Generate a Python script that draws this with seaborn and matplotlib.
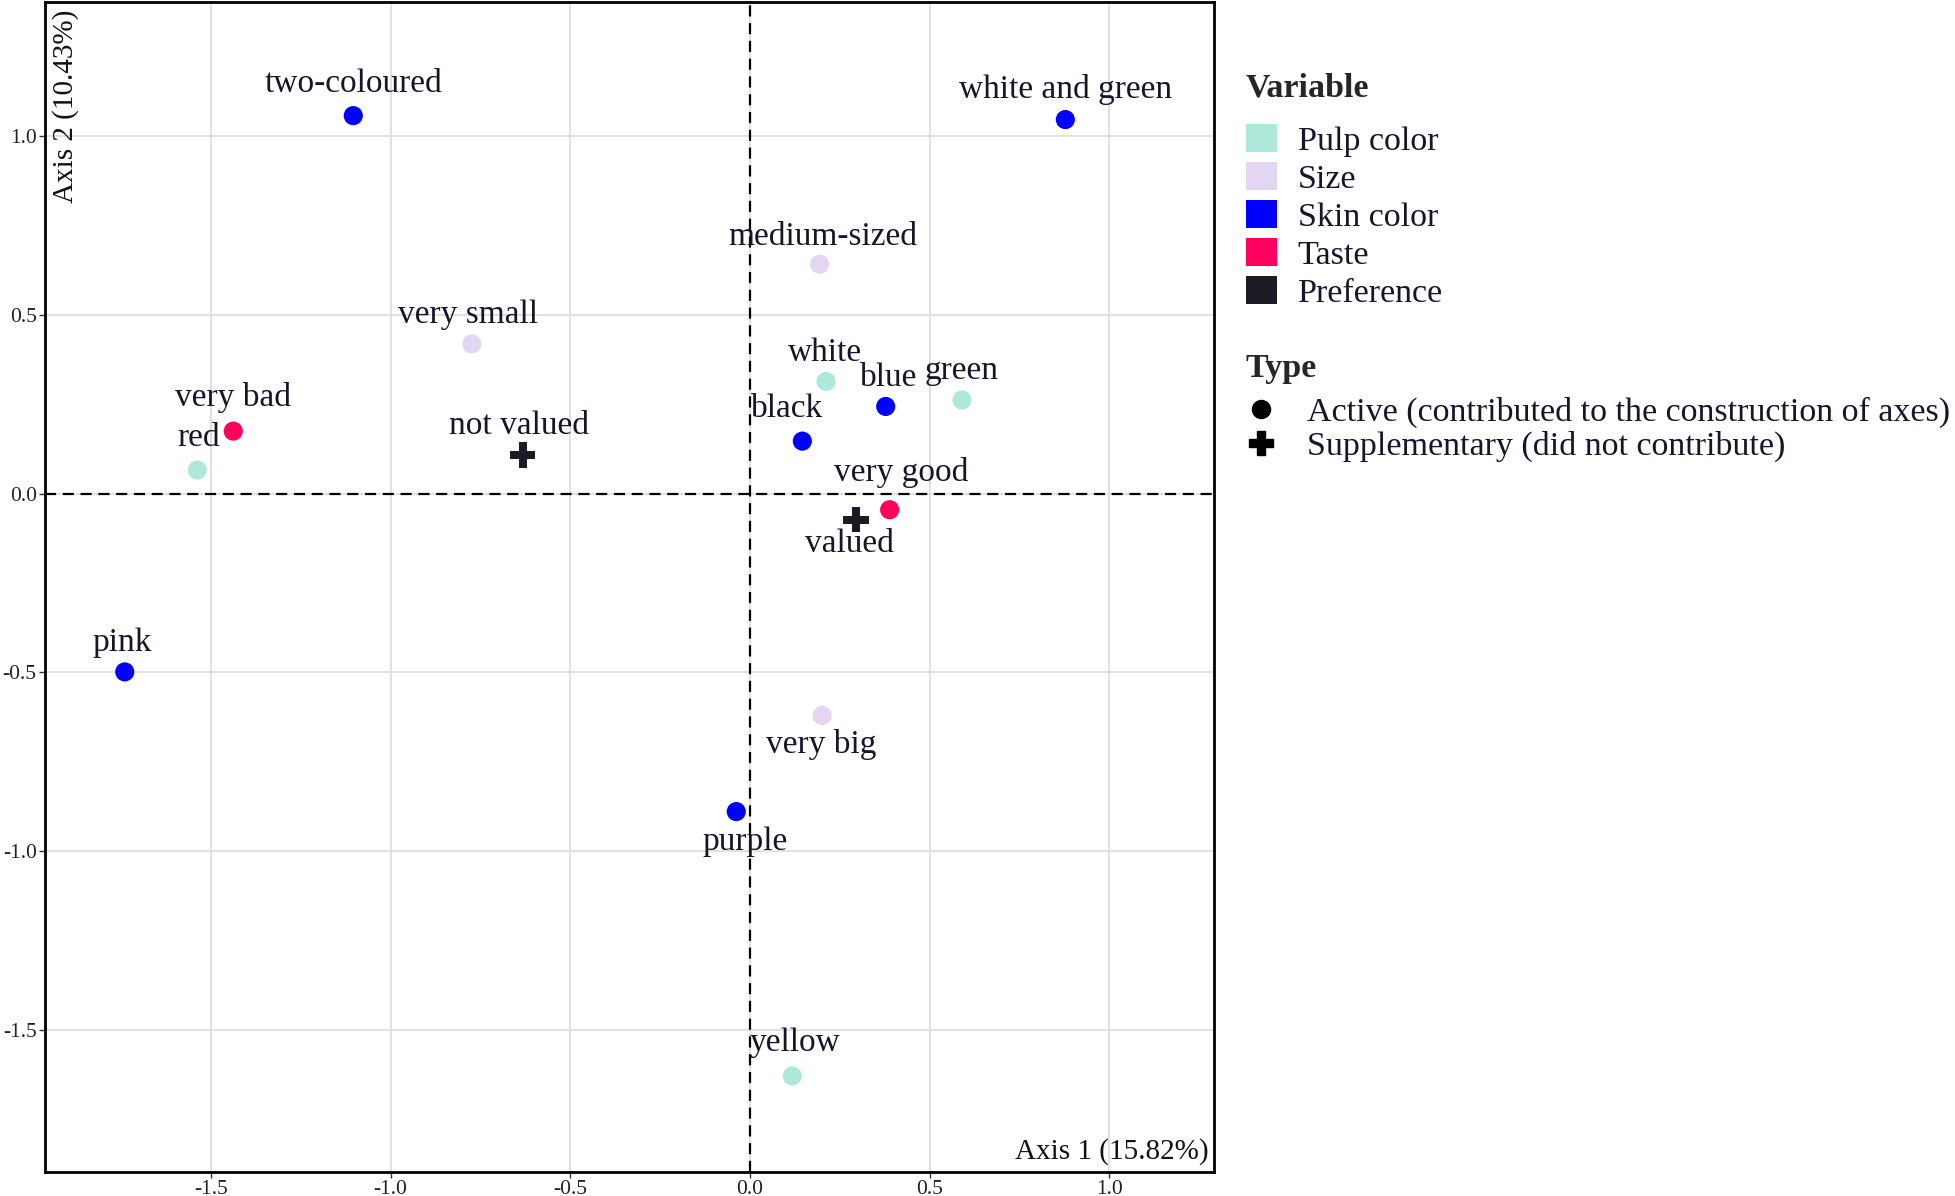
import matplotlib
matplotlib.use("Agg")
import matplotlib.pyplot as plt
from matplotlib.patches import Patch
from matplotlib.lines import Line2D
import seaborn as sns
import pandas as pd

sns.set_theme(style="whitegrid")
plt.rcParams["font.family"] = ["Liberation Serif", "DejaVu Serif"]

# categories
labels = ["two-coloured", "white and green", "medium-sized", "very small", "white",
          "blue", "green", "black", "very bad", "red", "not valued", "very good",
          "valued", "pink", "very big", "purple", "yellow"]
variable = ["Skin color", "Skin color", "Size", "Size", "Pulp color",
            "Skin color", "Pulp color", "Skin color", "Taste", "Pulp color", "Preference", "Taste",
            "Preference", "Skin color", "Size", "Skin color", "Pulp color"]
kind = ["Active", "Active", "Active", "Active", "Active",
        "Active", "Active", "Active", "Active", "Active", "Supplementary", "Active",
        "Supplementary", "Active", "Active", "Active", "Active"]
axis1 = [-1.104, 0.878, 0.194, -0.774, 0.212,
         0.378, 0.590, 0.146, -1.438, -1.538, -0.632, 0.389,
         0.295, -1.740, 0.201, -0.038, 0.118]
axis2 = [1.058, 1.047, 0.642, 0.419, 0.314,
         0.244, 0.262, 0.147, 0.175, 0.066, 0.108, -0.045,
         -0.073, -0.499, -0.621, -0.890, -1.630]

var_order = ["Pulp color", "Size", "Skin color", "Taste", "Preference"]
var_colors = ["#AEE8DB", "#E2D6F2", "#0000FF", "#FF005F", "#1C1C26"]
type_labels = ["Active (contributed to the construction of axes)",
               "Supplementary (did not contribute)"]

# label offsets in points (dx, dy), like a repel step
offsets = {"two-coloured": (0, 23), "white and green": (0, 22), "medium-sized": (2, 20),
           "very small": (-3, 21), "white": (-1, 21), "blue": (2, 21), "green": (0, 21),
           "black": (-11, 23), "very bad": (0, 24), "red": (1, 23), "not valued": (-3, 21),
           "very good": (8, 27), "valued": (-5, -17), "pink": (-2, 21), "very big": (-1, -21),
           "purple": (6, -22), "yellow": (2, 24)}

df = pd.DataFrame({"label": labels, "Variable": variable, "Type": kind,
                   "x": axis1, "y": axis2})

fig = plt.figure(figsize=(19.56, 11.96), dpi=100)
ax = fig.add_axes([0.023, 0.02, 0.5977, 0.978])

ax.axhline(0, color="black", linestyle=(0, (5, 3)), linewidth=1.6, zorder=1)
ax.axvline(0, color="black", linestyle=(0, (5, 3)), linewidth=1.6, zorder=1)

sns.scatterplot(data=df, x="x", y="y", hue="Variable", style="Type", size="Type",
                hue_order=var_order, palette=dict(zip(var_order, var_colors)),
                markers={"Active": "o", "Supplementary": "P"},
                sizes={"Active": 190, "Supplementary": 330},
                linewidth=0, legend=False, ax=ax, zorder=3)

txt_color = "#16162a"
for _, r in df.iterrows():
    dx, dy = offsets[r["label"]]
    ax.annotate(r["label"], (r["x"], r["y"]), xytext=(dx, dy), textcoords="offset points",
                ha="center", va="center", fontsize=24, color=txt_color, zorder=4)

ax.set_xlim(-1.962, 1.292)
ax.set_ylim(-1.899, 1.375)
ax.set_xticks([-1.5, -1.0, -0.5, 0.0, 0.5, 1.0])
ax.set_yticks([-1.5, -1.0, -0.5, 0.0, 0.5, 1.0])
ax.set_xticklabels(["-1.5", "-1.0", "-0.5", "0.0", "0.5", "1.0"])
ax.set_yticklabels(["-1.5", "-1.0", "-0.5", "0.0", "0.5", "1.0"])
ax.tick_params(axis="both", labelsize=15.5, length=4, width=1, color="#333333",
               labelcolor="#222222", pad=2, bottom=True, left=True)
ax.grid(True, color="#DEDEDE", linewidth=1.3)
ax.set_xlabel("")
ax.set_ylabel("")
for sp in ax.spines.values():
    sp.set_color("black")
    sp.set_linewidth(2)

ax.text(0.995, 0.006, "Axis 1 (15.82%)", transform=ax.transAxes, ha="right", va="bottom",
        fontsize=21, color="#111111")
ax.text(0.006, 0.994, "Axis 2 (10.43%)", transform=ax.transAxes, ha="left", va="top",
        rotation=90, fontsize=21, color="#111111")

var_handles = [Patch(facecolor=c, edgecolor="none") for c in var_colors]
leg1 = fig.legend(var_handles, var_order, title="Variable", loc="upper left",
                  bbox_to_anchor=(0.637, 0.939), frameon=False, fontsize=24.5,
                  title_fontproperties={"weight": "bold", "size": 24.5},
                  handlelength=0.9, handleheight=0.9, handletextpad=0.62,
                  labelspacing=0.15, borderpad=0, borderaxespad=0, alignment="left")
leg1._legend_box.sep = 14.5
for t in leg1.get_texts():
    t.set_color(txt_color)

type_handles = [Line2D([], [], marker="o", color="black", linestyle="", markersize=13),
                Line2D([], [], marker="P", color="black", linestyle="", markersize=17)]
leg2 = fig.legend(type_handles, type_labels, title="Type", loc="upper left",
                  bbox_to_anchor=(0.637, 0.705), frameon=False, fontsize=24.5,
                  title_fontproperties={"weight": "bold", "size": 24.5},
                  handlelength=0.9, handletextpad=0.9, labelspacing=0.075,
                  borderpad=0, borderaxespad=0, alignment="left")
leg2._legend_box.sep = 9.5
for t in leg2.get_texts():
    t.set_color(txt_color)

fig.savefig("out.png", dpi=100)
